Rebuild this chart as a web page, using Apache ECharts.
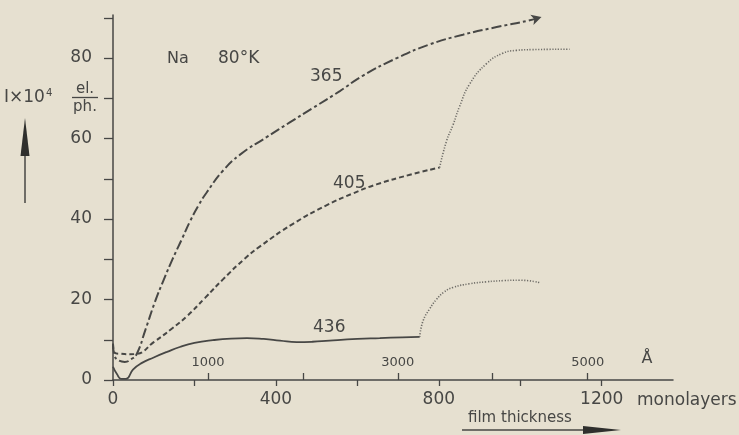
<!DOCTYPE html>
<html>
<head>
<meta charset="utf-8">
<script src="https://cdn.jsdelivr.net/npm/echarts@6/dist/echarts.min.js"></script>
<style>
  html, body { margin: 0; padding: 0; background: #e6e0d0; }
  #chart { width: 739px; height: 435px; }
</style>
</head>
<body>
<div id="chart"></div>
<script>
// Photoelectric yield of a Na film at 80 K against film thickness (monolayers)
// for three wavelengths (nm): 365, 405, 436.

// [thickness in monolayers, yield I x 10^4 electrons/photon]
const curve365 = [
  [0, 9.0], [4, 6.0], [15, 4.8], [29, 4.5], [45, 5.2], [58, 6.4],
  [80, 12.6], [103, 19.4], [125, 25.0], [147, 30.2], [170, 35.2], [189, 39.4],
  [210, 43.4], [230, 46.6], [270, 52.0], [312, 56.0], [378, 60.4], [434, 64.0],
  [491, 67.6], [557, 71.8], [613, 75.6], [697, 80.0], [778, 83.4], [859, 85.8],
  [942, 87.7], [1020, 89.3], [1052, 90.2]
];
const curve405Dashed = [
  [0, 9.0], [4, 6.8], [20, 6.5], [40, 6.4], [58, 6.5], [100, 9.4],
  [145, 12.8], [181, 15.8], [226, 20.4], [270, 25.0], [324, 30.2], [361, 33.2],
  [442, 38.8], [524, 43.4], [590, 46.4], [647, 48.6], [729, 51.0], [802, 52.8]
];
const curve405Dotted = [
  [802, 52.8], [819, 59.4], [835, 63.4], [851, 68.0], [876, 73.6], [917, 78.6],
  [957, 81.2], [990, 81.9], [1030, 82.1], [1121, 82.2]
];
const curve436Solid = [
  [0, 3.3], [10, 1.4], [20, 0.3], [32, 0.3], [49, 2.6], [70, 4.2],
  [100, 5.6], [133, 7.0], [164, 8.2], [200, 9.2], [245, 9.9], [290, 10.3],
  [329, 10.4], [370, 10.2], [410, 9.8], [451, 9.4], [490, 9.5], [532, 9.8],
  [600, 10.2], [655, 10.4], [710, 10.6], [753, 10.7]
];
const curve436Dotted = [
  [753, 10.7], [761, 14.6], [777, 17.6], [794, 20.0], [812, 21.8], [835, 23.0],
  [875, 23.9], [917, 24.4], [960, 24.7], [999, 24.8], [1048, 24.2]
];

// Axis ranges, tick positions and tick labels
const xMaxLayers = 1375;
const yMax = 90.7;
const layerTicks = [0, 200, 400, 600, 800, 1000, 1200];
const layerTickLabels = [0, 400, 800, 1200];
const yTicks = [0, 10, 20, 30, 40, 50, 60, 70, 80, 90];
const yTickLabels = [0, 20, 40, 60, 80];
const angstromPerLayer = 4.29;
const angstromTicks = [1000, 2000, 3000, 4000, 5000];
const angstromTickLabels = [1000, 3000, 5000];

const ink = '#474745';
const inkLight = '#6e6c67';
const font = 'DejaVu Sans';
const plain = v => String(v);

const chart = echarts.init(document.getElementById('chart'), null, { renderer: 'canvas' });

function txt(x, y, text, size, align) {
  return {
    type: 'text', x: x, y: y,
    style: {
      text: text, fill: ink, font: size + 'px "' + font + '"',
      textAlign: align || 'left', textVerticalAlign: 'middle'
    }
  };
}

chart.setOption({
  backgroundColor: '#e6e0d0',
  animation: false,
  grid: { left: 113, top: 15, width: 560, height: 365, containLabel: false },
  xAxis: [
    {
      type: 'value', min: 0, max: xMaxLayers,
      axisLine: { lineStyle: { color: ink, width: 1.5 } },
      axisTick: { show: true, length: 6, customValues: layerTicks,
        lineStyle: { color: ink, width: 1.3 } },
      axisLabel: {
        color: ink, fontFamily: font, fontSize: 17, margin: 11,
        customValues: layerTickLabels, formatter: plain
      },
      splitLine: { show: false }
    },
    {
      type: 'value', position: 'bottom', offset: 0,
      min: 0, max: xMaxLayers * angstromPerLayer,
      axisLine: { show: false, onZero: false },
      axisTick: { show: true, inside: true, length: 7, customValues: angstromTicks,
        lineStyle: { color: ink, width: 1.3 } },
      axisLabel: {
        inside: true, color: ink, fontFamily: font, fontSize: 13, margin: 11,
        customValues: angstromTickLabels, formatter: plain
      },
      splitLine: { show: false }
    }
  ],
  yAxis: {
    type: 'value', min: 0, max: yMax,
    axisLine: { show: true, lineStyle: { color: ink, width: 1.5 } },
    axisTick: { show: true, length: 9, customValues: yTicks,
      lineStyle: { color: ink, width: 1.3 } },
    axisLabel: {
      color: ink, fontFamily: font, fontSize: 17, margin: 21,
      customValues: yTickLabels, formatter: plain
    },
    splitLine: { show: false }
  },
  series: [
    {
      name: '365', type: 'line', xAxisIndex: 0,
      data: curve365.map((p, i) => i === curve365.length - 1
        ? { value: p, symbol: 'arrow', symbolSize: [8, 10], symbolRotate: -73,
            itemStyle: { color: ink } }
        : { value: p }),
      symbol: 'none', showSymbol: true, smooth: 0.5, clip: false,
      lineStyle: { color: ink, width: 2, type: [10, 3, 3, 3] }
    },
    {
      name: '405', type: 'line', xAxisIndex: 0, data: curve405Dashed,
      symbol: 'none', smooth: 0.5,
      lineStyle: { color: ink, width: 2, type: [5, 3] }
    },
    {
      name: '405 (dotted)', type: 'line', xAxisIndex: 0, data: curve405Dotted,
      symbol: 'none', smooth: 0.5,
      lineStyle: { color: inkLight, width: 1.6, type: [1.2, 1.6] }
    },
    {
      name: '436', type: 'line', xAxisIndex: 0, data: curve436Solid,
      symbol: 'none', smooth: 0.5,
      lineStyle: { color: ink, width: 1.8 }
    },
    {
      name: '436 (dotted)', type: 'line', xAxisIndex: 0, data: curve436Dotted,
      symbol: 'none', smooth: 0.5,
      lineStyle: { color: inkLight, width: 1.6, type: [1.2, 1.6] }
    }
  ],
  graphic: [
    txt(167, 59, 'Na', 16),
    txt(218, 59, '80°K', 17),
    txt(310, 77, '365', 17),
    txt(333, 184, '405', 17),
    txt(313, 328, '436', 17),
    // y-axis quantity: I x 10^4 el./ph.
    {
      type: 'text', x: 4, y: 98,
      style: {
        text: '{b|I×10}{s|4}', fill: ink, textVerticalAlign: 'middle',
        rich: {
          b: { fontFamily: font, fontSize: 17, fill: ink },
          s: { fontFamily: font, fontSize: 10, fill: ink, padding: [0, 0, 9, 1] }
        }
      }
    },
    txt(85, 89, 'el.', 15, 'center'),
    txt(85, 107, 'ph.', 15, 'center'),
    { type: 'line', shape: { x1: 72, y1: 97.5, x2: 98, y2: 97.5 }, style: { stroke: ink, lineWidth: 1.3 } },
    // upward arrow beside the y quantity
    { type: 'line', shape: { x1: 25, y1: 203, x2: 25, y2: 150 }, style: { stroke: ink, lineWidth: 1.5 } },
    { type: 'polygon', shape: { points: [[25, 118], [20.5, 156], [29.5, 156]] }, style: { fill: '#2f2f2d' } },
    // angstrom unit and monolayer unit
    txt(647, 359, 'Å', 16, 'center'),
    txt(637, 401, 'monolayers', 17),
    // film thickness with arrow
    txt(468, 418, 'film thickness', 15),
    { type: 'line', shape: { x1: 462, y1: 430, x2: 590, y2: 430 }, style: { stroke: ink, lineWidth: 1.5 } },
    { type: 'polygon', shape: { points: [[583, 426], [621, 430], [583, 434]] }, style: { fill: '#2f2f2d' } }
  ]
});
</script>
</body>
</html>
